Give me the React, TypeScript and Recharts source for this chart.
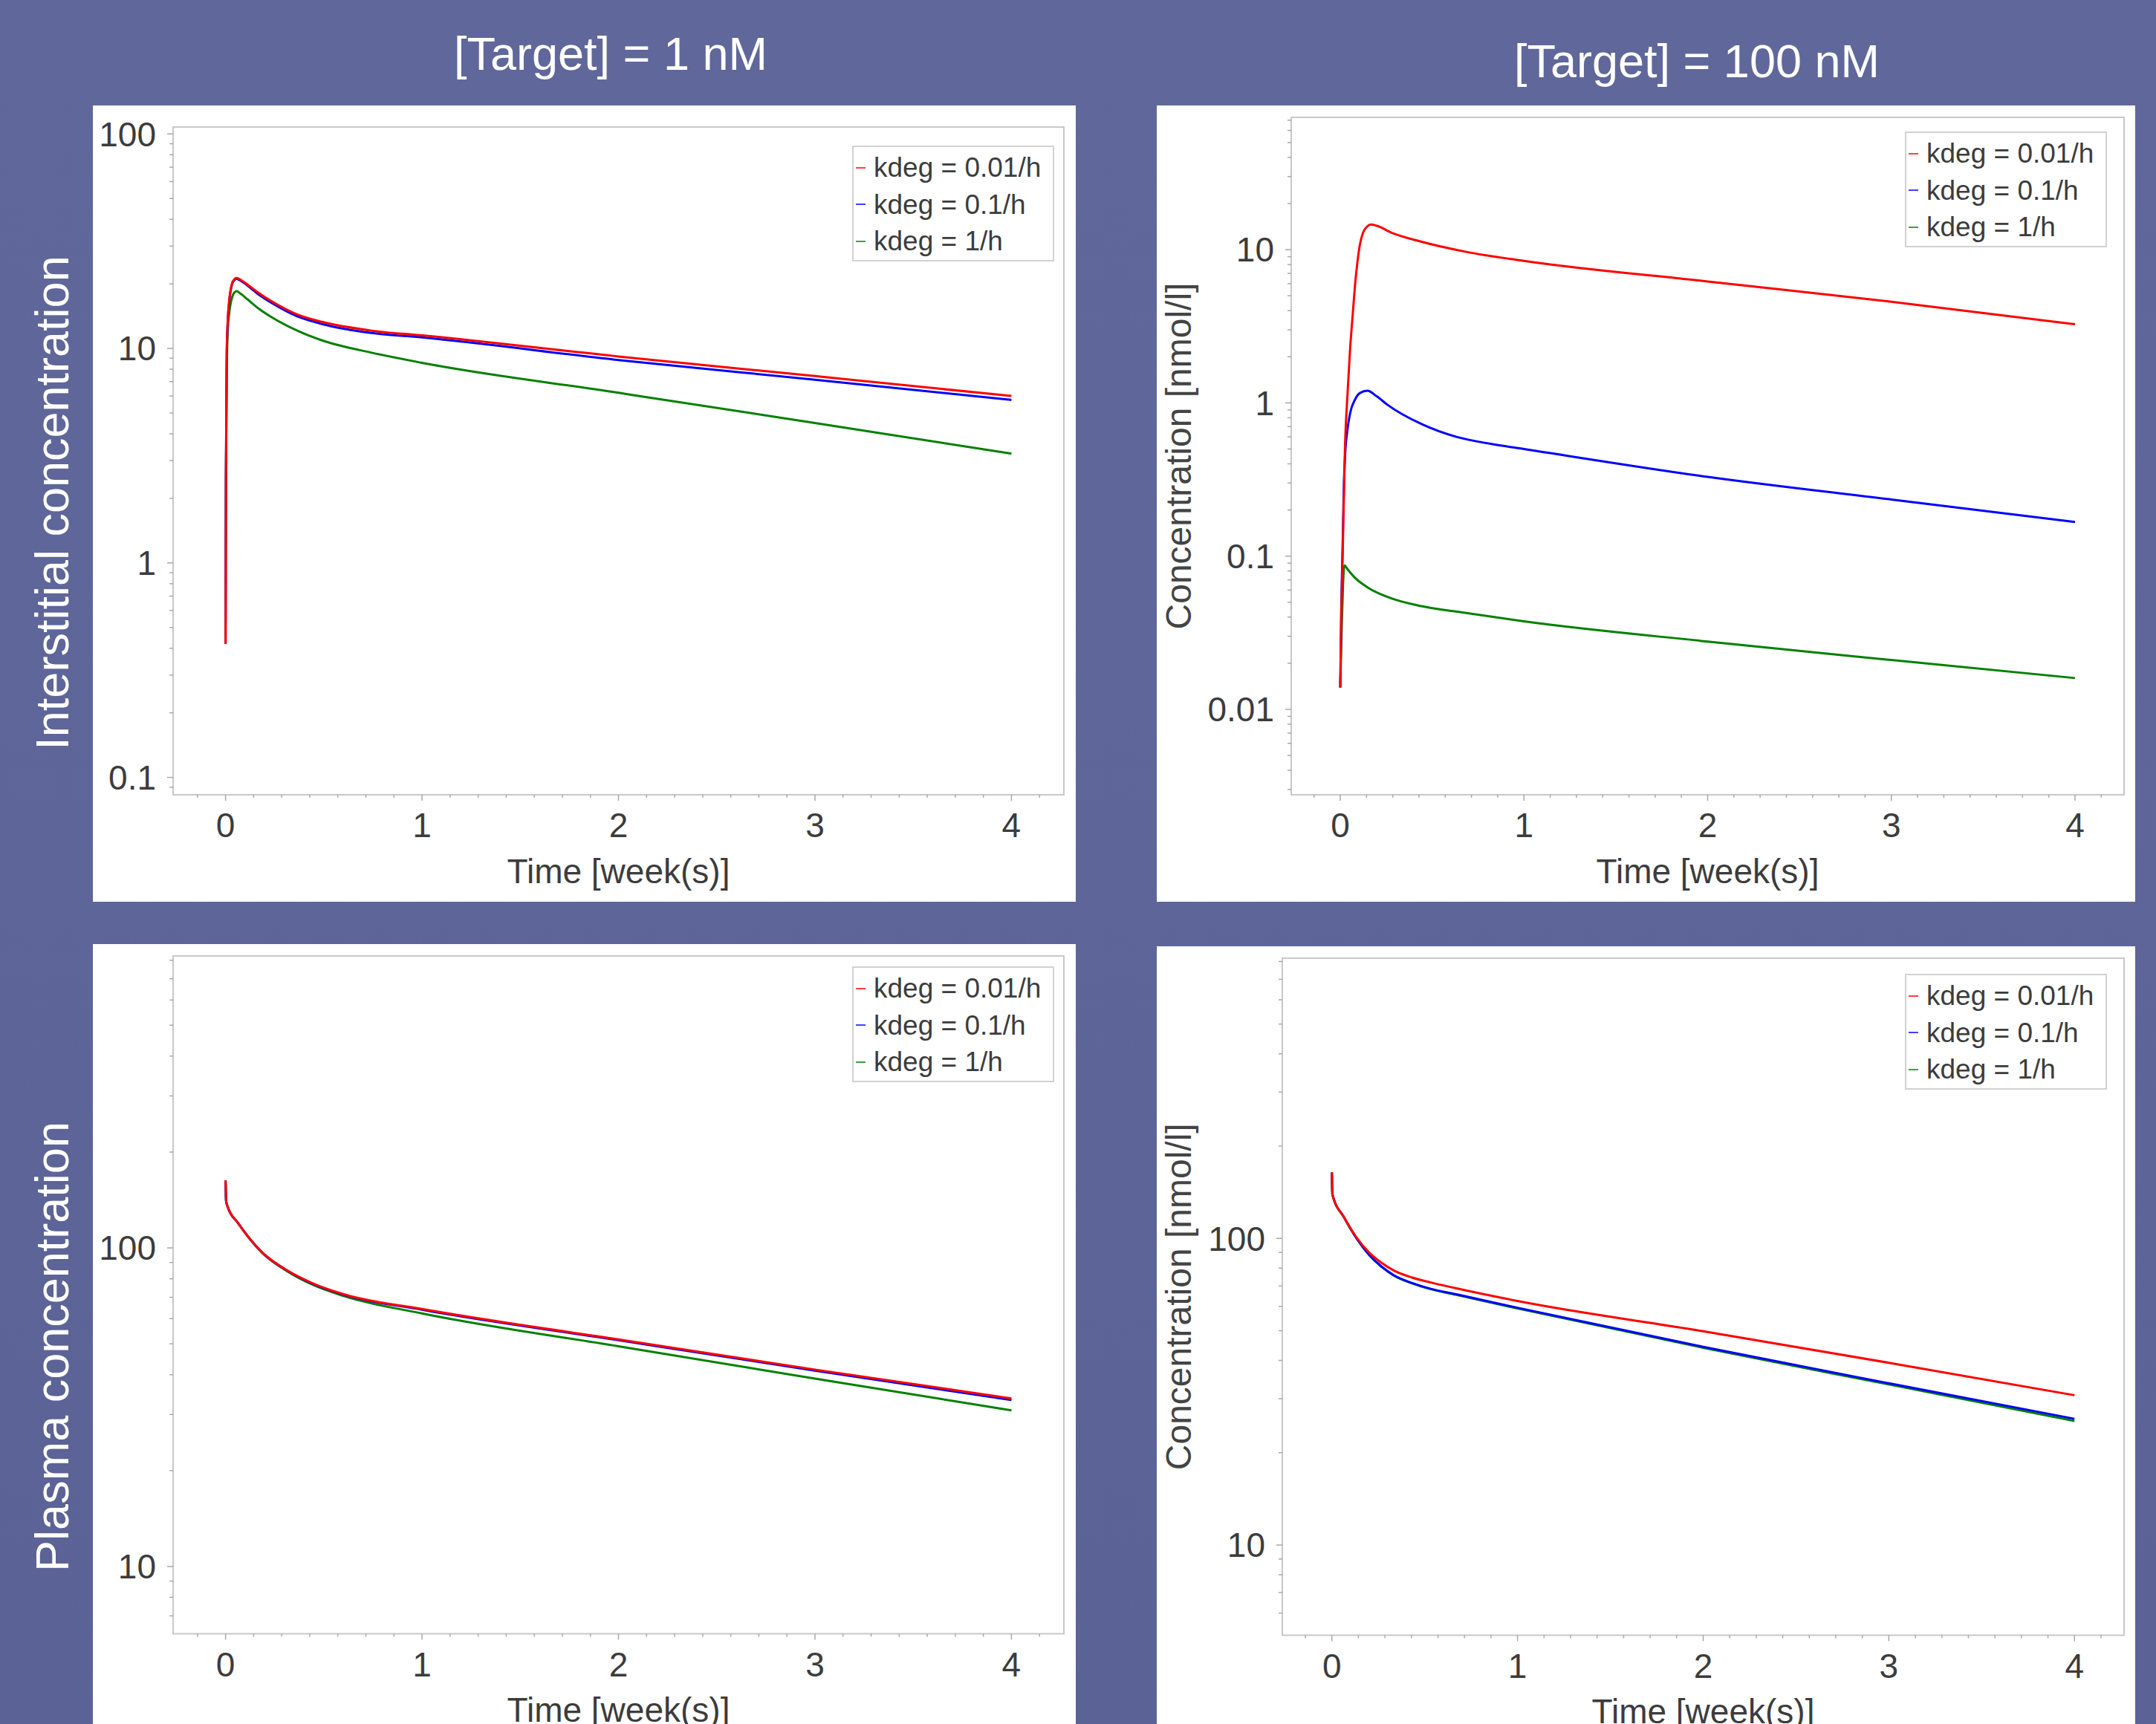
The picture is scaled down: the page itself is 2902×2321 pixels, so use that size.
import React from 'react';
import { LineChart, Line, XAxis, YAxis, ReferenceArea } from 'recharts';

const FONT = '"Liberation Sans", Arial, Helvetica, sans-serif';
const BG = '#5e6598';
const TEXT = '#3c3c3c';
const TICK = '#a8a8a8';
const BOX = '#c8c8c8';
const RED = '#ff0000';
const BLUE = '#0000ff';
const GREEN = '#008000';

const SERIES_NAMES = ['kdeg = 0.01/h', 'kdeg = 0.1/h', 'kdeg = 1/h'];
const SERIES_COLORS = [RED, BLUE, GREEN];

const COLUMN_TITLES = ['[Target] = 1 nM', '[Target] = 100 nM'];
const ROW_LABELS = ['Interstitial concentration', 'Plasma concentration'];
const X_LABEL = 'Time [week(s)]';
const Y_LABEL = 'Concentration [nmol/l]';

const X_DOMAIN: [number, number] = [-0.267, 4.267];
const X_MAJOR_TICKS = [0, 1, 2, 3, 4];
const X_DAY_TICKS = [-1, 0, 1, 2, 3, 4, 5, 6, 7, 8, 9, 10, 11, 12, 13, 14, 15, 16, 17, 18, 19, 20, 21, 22, 23, 24, 25, 26, 27, 28, 29];

// y ticks per panel
const TL_Y_MAJOR = [0.1, 1, 10, 100];
const TL_Y_MINOR = [0.09, 0.2, 0.3, 0.4, 0.5, 0.6, 0.7, 0.8, 0.9, 2, 3, 4, 5, 6, 7, 8, 9, 20, 30, 40, 50, 60, 70, 80, 90];
const TR_Y_MAJOR = [0.01, 0.1, 1, 10];
const TR_Y_MINOR = [0.003, 0.004, 0.005, 0.006, 0.007, 0.008, 0.009, 0.02, 0.03, 0.04, 0.05, 0.06, 0.07, 0.08, 0.09, 0.2, 0.3, 0.4, 0.5, 0.6, 0.7, 0.8, 0.9, 2, 3, 4, 5, 6, 7, 8, 9, 20, 30, 40, 50, 60, 70];
const BL_Y_MAJOR = [10, 100];
const BL_Y_MINOR = [7, 8, 9, 20, 30, 40, 50, 60, 70, 80, 90, 200, 300, 400, 500, 600, 700, 800];
const BR_Y_MAJOR = [10, 100];
const BR_Y_MINOR = [6, 7, 8, 9, 20, 30, 40, 50, 60, 70, 80, 90, 200, 300, 400, 500, 600, 700, 800];

// series: [time (weeks), concentration]
const TL_RED = [[0, 0.42], [0.002, 2.6], [0.006, 9.5], [0.012, 14], [0.018, 16.5], [0.031, 19.8], [0.044, 21], [0.056, 21.3], [0.08, 20.8], [0.113, 19.8], [0.17, 18.1], [0.239, 16.5], [0.365, 14.4], [0.491, 13.3], [0.743, 12.1], [1, 11.5], [2, 9.17], [3, 7.43], [4, 6.0]];
const TL_BLUE = [[0, 0.42], [0.002, 2.6], [0.006, 9.4], [0.012, 13.8], [0.018, 16.3], [0.031, 19.6], [0.044, 20.8], [0.056, 21.1], [0.08, 20.6], [0.113, 19.6], [0.17, 17.8], [0.239, 16.2], [0.365, 14.1], [0.491, 13.0], [0.743, 11.8], [1, 11.25], [2, 8.83], [3, 7.15], [4, 5.75]];
const TL_GREEN = [[0, 0.42], [0.002, 2.3], [0.006, 8], [0.012, 12.5], [0.018, 14.5], [0.031, 17], [0.044, 18.2], [0.056, 18.5], [0.08, 17.9], [0.113, 16.9], [0.17, 15.3], [0.239, 13.9], [0.365, 12.1], [0.491, 10.9], [0.743, 9.55], [1, 8.57], [2, 6.21], [3, 4.49], [4, 3.23]];

const TR_RED = [[0, 0.0139], [0.006, 0.045], [0.0125, 0.096], [0.026, 0.53], [0.04, 1.17], [0.053, 2.2], [0.067, 3.67], [0.08, 5.8], [0.094, 8.4], [0.107, 10.8], [0.12, 12.5], [0.134, 13.6], [0.15, 14.3], [0.167, 14.6], [0.2, 14.3], [0.282, 12.85], [0.417, 11.47], [0.686, 9.67], [1, 8.45], [2, 6.2], [3, 4.57], [4, 3.26]];
const TR_BLUE = [[0, 0.0139], [0.006, 0.05], [0.0125, 0.11], [0.02, 0.3], [0.026, 0.45], [0.04, 0.68], [0.053, 0.85], [0.08, 1.05], [0.107, 1.16], [0.148, 1.2], [0.2, 1.1], [0.258, 0.97], [0.445, 0.725], [0.632, 0.6], [0.819, 0.54], [1, 0.5], [2, 0.329], [3, 0.234], [4, 0.167]];
const TR_GREEN = [[0, 0.0139], [0.008, 0.035], [0.015, 0.065], [0.023, 0.087], [0.04, 0.082], [0.08, 0.0722], [0.148, 0.0626], [0.282, 0.0528], [0.417, 0.0478], [0.686, 0.0425], [1, 0.0375], [2, 0.0277], [3, 0.021], [4, 0.016]];

const BL_RED = [[0, 163], [0.003, 140], [0.012, 134], [0.0624, 120], [0.188, 96.5], [0.315, 84.9], [0.44, 77.6], [0.602, 71.5], [1, 64.3], [2, 51.6], [3, 41.5], [4, 33.7]];
const BL_BLUE = [[0, 163], [0.003, 140], [0.012, 134], [0.0624, 120], [0.188, 96.5], [0.315, 84.8], [0.44, 77.4], [0.602, 71.3], [1, 64.0], [2, 51.3], [3, 41.2], [4, 33.3]];
const BL_GREEN = [[0, 163], [0.003, 140], [0.012, 134], [0.0624, 120], [0.188, 96.3], [0.315, 84.4], [0.44, 76.8], [0.602, 70.6], [1, 62.3], [2, 49.1], [3, 38.9], [4, 30.9]];

const BR_RED = [[0, 164], [0.003, 139], [0.066, 117], [0.133, 100.7], [0.2, 90], [0.267, 83.3], [0.333, 78.6], [0.433, 74.5], [0.533, 71.8], [0.667, 68.8], [1, 62.5], [2, 49.8], [3, 39.3], [4, 30.8]];
const BR_BLUE = [[0, 164], [0.003, 139], [0.066, 117], [0.133, 100], [0.2, 88.5], [0.267, 81], [0.333, 75.9], [0.433, 71.5], [0.533, 68.5], [0.667, 65.8], [1, 59.4], [2, 44.3], [3, 33.7], [4, 25.8]];
const BR_GREEN = [[0, 164], [0.003, 139], [0.066, 117], [0.133, 100], [0.2, 88.4], [0.267, 80.8], [0.333, 75.7], [0.433, 71.3], [0.533, 68.3], [0.667, 65.5], [1, 59.1], [2, 44.0], [3, 33.4], [4, 25.4]];

const toRows = (pairs: number[][]) => pairs.map(([t, v]) => ({ t, v }));

type PanelCfg = {
  left: number; top: number; width: number; height: number;
  margin: { top: number; right: number; bottom: number; left: number };
  yWidth: number; xHeight: number;
  yDomain: [number, number];
  yMajor: number[]; yMinor: number[];
  series: number[][][];
  legend: { left: number; top: number };
  showYLabel: boolean;
};

const PANELS: PanelCfg[] = [
  {
    left: 125, top: 142, width: 1323, height: 1072,
    margin: { top: 29, right: 16, bottom: 0, left: 0 }, yWidth: 108, xHeight: 144,
    yDomain: [0.083, 107.7], yMajor: TL_Y_MAJOR, yMinor: TL_Y_MINOR,
    series: [TL_RED, TL_BLUE, TL_GREEN], legend: { left: 1022, top: 54 }, showYLabel: false,
  },
  {
    left: 1557, top: 142, width: 1317, height: 1072,
    margin: { top: 16, right: 15, bottom: 0, left: 0 }, yWidth: 181, xHeight: 144,
    yDomain: [0.00277, 73], yMajor: TR_Y_MAJOR, yMinor: TR_Y_MINOR,
    series: [TR_RED, TR_BLUE, TR_GREEN], legend: { left: 1007, top: 35 }, showYLabel: true,
  },
  {
    left: 125, top: 1271, width: 1323, height: 1050,
    margin: { top: 16, right: 16, bottom: 0, left: 0 }, yWidth: 108, xHeight: 121.5,
    yDomain: [6.15, 825], yMajor: BL_Y_MAJOR, yMinor: BL_Y_MINOR,
    series: [BL_RED, BL_BLUE, BL_GREEN], legend: { left: 1022, top: 30 }, showYLabel: false,
  },
  {
    left: 1557, top: 1274, width: 1317, height: 1047,
    margin: { top: 16, right: 15, bottom: 0, left: 0 }, yWidth: 169, xHeight: 119.5,
    yDomain: [5.08, 820], yMajor: BR_Y_MAJOR, yMinor: BR_Y_MINOR,
    series: [BR_RED, BR_BLUE, BR_GREEN], legend: { left: 1007, top: 37 }, showYLabel: true,
  },
];

const XTick = (p: any) => {
  const { x, y, payload } = p;
  const major = X_MAJOR_TICKS.includes(payload.value);
  return (
    <g>
      <line x1={x} x2={x} y1={y} y2={y + (major ? 8 : 4)} stroke={TICK} strokeWidth={1.5} />
      {major && (
        <text x={x} y={y + 57} textAnchor="middle" fontSize={46} fill={TEXT} style={{ fontFamily: FONT }}>
          {String(payload.value)}
        </text>
      )}
    </g>
  );
};

const YTick = (p: any) => {
  const { x, y, payload, majors } = p;
  const major = majors.includes(payload.value);
  return (
    <g>
      <line x1={x - (major ? 8 : 5)} x2={x} y1={y} y2={y} stroke={TICK} strokeWidth={1.5} />
      {major && (
        <text x={x - 23} y={y} dy="0.355em" textAnchor="end" fontSize={46} fill={TEXT} style={{ fontFamily: FONT }}>
          {String(payload.value)}
        </text>
      )}
    </g>
  );
};

const LegendBox = ({ left, top }: { left: number; top: number }) => (
  <div
    style={{
      position: 'absolute', left, top, width: 272, height: 156, boxSizing: 'border-box',
      border: '2px solid #d2d2d2', background: '#fff', paddingTop: 3, fontFamily: FONT,
    }}
  >
    {SERIES_NAMES.map((name, i) => (
      <div key={name} style={{ display: 'flex', alignItems: 'center', height: 49.5 }}>
        <span style={{ display: 'inline-block', width: 13, height: 2, marginLeft: 3, background: SERIES_COLORS[i], opacity: 0.75 }} />
        <span style={{ marginLeft: 11, fontSize: 37, color: TEXT, lineHeight: '49px', whiteSpace: 'nowrap' }}>{name}</span>
      </div>
    ))}
  </div>
);

const Panel = ({ cfg }: { cfg: PanelCfg }) => {
  const yTicks = [...cfg.yMinor, ...cfg.yMajor].sort((a, b) => a - b);
  const xTicks = X_DAY_TICKS.map((d) => d / 7);
  const order = [2, 1, 0];
  return (
    <div style={{ position: 'absolute', left: cfg.left, top: cfg.top, width: cfg.width, height: cfg.height, background: '#fff', overflow: 'hidden' }}>
      <LineChart width={cfg.width} height={cfg.height} margin={cfg.margin}>
        <XAxis
          xAxisId="x"
          type="number"
          dataKey="t"
          domain={X_DOMAIN}
          allowDataOverflow
          ticks={xTicks}
          interval={0}
          tickLine={false}
          axisLine={false}
          tickSize={0}
          tickMargin={0}
          height={cfg.xHeight}
          tick={(p: any) => <XTick {...p} />}
          label={{ value: X_LABEL, position: 'insideTop', offset: 86, fill: TEXT, fontSize: 46, style: { fontFamily: FONT } }}
        />
        <YAxis
          yAxisId="y"
          type="number"
          scale="log"
          domain={cfg.yDomain}
          allowDataOverflow
          ticks={yTicks}
          interval={0}
          tickLine={false}
          axisLine={false}
          tickSize={0}
          tickMargin={0}
          width={cfg.yWidth}
          tick={(p: any) => <YTick {...p} majors={cfg.yMajor} />}
          label={
            cfg.showYLabel
              ? { value: Y_LABEL, angle: -90, position: 'insideLeft', offset: 29, fill: '#444444', fontSize: 48, style: { textAnchor: 'middle', fontFamily: FONT } }
              : undefined
          }
        />
        <ReferenceArea
          xAxisId="x"
          yAxisId="y"
          x1={X_DOMAIN[0]}
          x2={X_DOMAIN[1]}
          y1={cfg.yDomain[0]}
          y2={cfg.yDomain[1]}
          fill="none"
          fillOpacity={0}
          stroke={BOX}
          strokeWidth={2}
          ifOverflow="visible"
        />
        {order.map((i) => (
          <Line
            key={SERIES_NAMES[i]}
            xAxisId="x"
            yAxisId="y"
            name={SERIES_NAMES[i]}
            data={toRows(cfg.series[i])}
            dataKey="v"
            type="monotone"
            stroke={SERIES_COLORS[i]}
            strokeWidth={3}
            dot={false}
            activeDot={false}
            isAnimationActive={false}
          />
        ))}
      </LineChart>
      <LegendBox left={cfg.legend.left} top={cfg.legend.top} />
    </div>
  );
};

export default function App() {
  return (
    <div
      style={{
        position: 'absolute', left: 0, top: 0, width: 2902, height: 2321, overflow: 'hidden',
        background: `linear-gradient(180deg, #60679a 0%, ${BG} 50%, #5b6295 100%)`, fontFamily: FONT,
      }}
    >
      {PANELS.map((cfg, i) => (
        <Panel key={i} cfg={cfg} />
      ))}
      <svg width={2902} height={2321} style={{ position: 'absolute', left: 0, top: 0, pointerEvents: 'none' }}>
        <text x={822} y={94} textAnchor="middle" fontSize={63} fill="#ffffff" style={{ fontFamily: FONT }}>{COLUMN_TITLES[0]}</text>
        <text x={2284} y={104} textAnchor="middle" fontSize={63} fill="#ffffff" style={{ fontFamily: FONT }}>{COLUMN_TITLES[1]}</text>
        <text x={70} y={677} dy="0.355em" textAnchor="middle" fontSize={63} fill="#ffffff" transform="rotate(-90 70 677)" style={{ fontFamily: FONT }}>{ROW_LABELS[0]}</text>
        <text x={70} y={1813} dy="0.355em" textAnchor="middle" fontSize={63} fill="#ffffff" transform="rotate(-90 70 1813)" style={{ fontFamily: FONT }}>{ROW_LABELS[1]}</text>
      </svg>
    </div>
  );
}
